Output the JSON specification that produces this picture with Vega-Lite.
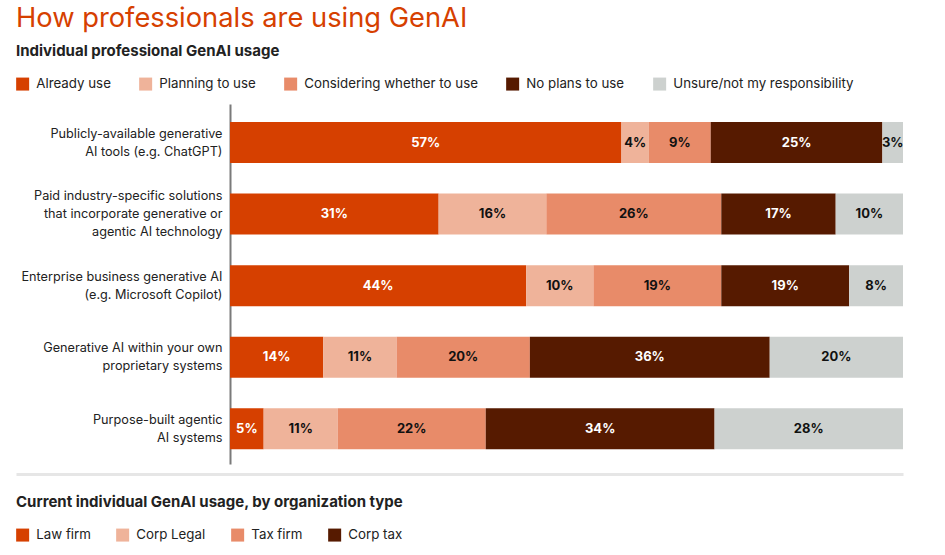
{
  "$schema": "https://vega.github.io/schema/vega-lite/v6.json",
  "autosize": "none",
  "width": 887,
  "height": 360,
  "padding": {"left": 16, "top": 104, "right": 42, "bottom": 91},
  "background": "white",
  "title": {
    "text": "How professionals are using GenAI",
    "anchor": "start",
    "frame": "group",
    "font": "Inter",
    "fontSize": 27.3,
    "fontWeight": 400,
    "color": "#D64000",
    "offset": 12
  },
  "config": {"view": {"stroke": null}, "font": "Inter"},
  "datasets": {
    "usage": [
      {"tool": "Publicly-available generative|AI tools (e.g. ChatGPT)", "response": "Already use", "pct": 57},
      {"tool": "Publicly-available generative|AI tools (e.g. ChatGPT)", "response": "Planning to use", "pct": 4},
      {"tool": "Publicly-available generative|AI tools (e.g. ChatGPT)", "response": "Considering whether to use", "pct": 9},
      {"tool": "Publicly-available generative|AI tools (e.g. ChatGPT)", "response": "No plans to use", "pct": 25},
      {"tool": "Publicly-available generative|AI tools (e.g. ChatGPT)", "response": "Unsure/not my responsibility", "pct": 3},
      {"tool": "Paid industry-specific solutions|that incorporate generative or|agentic AI technology", "response": "Already use", "pct": 31},
      {"tool": "Paid industry-specific solutions|that incorporate generative or|agentic AI technology", "response": "Planning to use", "pct": 16},
      {"tool": "Paid industry-specific solutions|that incorporate generative or|agentic AI technology", "response": "Considering whether to use", "pct": 26},
      {"tool": "Paid industry-specific solutions|that incorporate generative or|agentic AI technology", "response": "No plans to use", "pct": 17},
      {"tool": "Paid industry-specific solutions|that incorporate generative or|agentic AI technology", "response": "Unsure/not my responsibility", "pct": 10},
      {"tool": "Enterprise business generative AI|(e.g. Microsoft Copilot)", "response": "Already use", "pct": 44},
      {"tool": "Enterprise business generative AI|(e.g. Microsoft Copilot)", "response": "Planning to use", "pct": 10},
      {"tool": "Enterprise business generative AI|(e.g. Microsoft Copilot)", "response": "Considering whether to use", "pct": 19},
      {"tool": "Enterprise business generative AI|(e.g. Microsoft Copilot)", "response": "No plans to use", "pct": 19},
      {"tool": "Enterprise business generative AI|(e.g. Microsoft Copilot)", "response": "Unsure/not my responsibility", "pct": 8},
      {"tool": "Generative AI within your own|proprietary systems", "response": "Already use", "pct": 14},
      {"tool": "Generative AI within your own|proprietary systems", "response": "Planning to use", "pct": 11},
      {"tool": "Generative AI within your own|proprietary systems", "response": "Considering whether to use", "pct": 20},
      {"tool": "Generative AI within your own|proprietary systems", "response": "No plans to use", "pct": 36},
      {"tool": "Generative AI within your own|proprietary systems", "response": "Unsure/not my responsibility", "pct": 20},
      {"tool": "Purpose-built agentic|AI systems", "response": "Already use", "pct": 5},
      {"tool": "Purpose-built agentic|AI systems", "response": "Planning to use", "pct": 11},
      {"tool": "Purpose-built agentic|AI systems", "response": "Considering whether to use", "pct": 22},
      {"tool": "Purpose-built agentic|AI systems", "response": "No plans to use", "pct": 34},
      {"tool": "Purpose-built agentic|AI systems", "response": "Unsure/not my responsibility", "pct": 28}
    ],
    "orgs": [
      {"org": "Law firm"},
      {"org": "Corp Legal"},
      {"org": "Tax firm"},
      {"org": "Corp tax"}
    ]
  },
  "layer": [
    {
      "data": {"name": "usage"},
      "transform": [
        {"calculate": "indexof(['Already use','Planning to use','Considering whether to use','No plans to use','Unsure/not my responsibility'], datum.response)", "as": "rk"},
        {"stack": "pct", "groupby": ["tool"], "sort": [{"field": "rk"}], "offset": "normalize", "as": ["x0", "x1"]}
      ],
      "mark": {"type": "bar"},
      "encoding": {
        "y": {
          "field": "tool",
          "type": "nominal",
          "sort": [
            "Publicly-available generative|AI tools (e.g. ChatGPT)",
            "Paid industry-specific solutions|that incorporate generative or|agentic AI technology",
            "Enterprise business generative AI|(e.g. Microsoft Copilot)",
            "Generative AI within your own|proprietary systems",
            "Purpose-built agentic|AI systems"
          ],
          "scale": {"paddingInner": 0.427, "paddingOuter": 0.23, "align": 0.55},
          "axis": {
            "title": null,
            "offset": -214,
            "domainColor": "#7a7a7a",
            "domainWidth": 2,
            "ticks": false,
            "labelFont": "Inter",
            "labelFontSize": 12.7,
            "labelColor": "#222222",
            "labelLineHeight": 18,
            "labelPadding": 8,
            "labelLimit": 400,
            "labelOffset": {"condition": {"test": "indexof(datum.value, 'agentic AI technology') >= 0", "value": -18}, "value": -9},
            "labelExpr": "split(datum.label, '|')"
          }
        },
        "x": {
          "field": "x0",
          "type": "quantitative",
          "scale": {"domain": [-0.318, 1], "nice": false, "zero": false},
          "axis": {
            "title": null,
            "labels": false,
            "ticks": false,
            "grid": false,
            "domainColor": "#E6E6E6",
            "domainWidth": 3,
            "offset": 10
          }
        },
        "x2": {"field": "x1"},
        "color": {
          "field": "response",
          "type": "nominal",
          "scale": {
            "domain": ["Already use", "Planning to use", "Considering whether to use", "No plans to use", "Unsure/not my responsibility"],
            "range": ["#D64000", "#EFB39A", "#E88B69", "#561A00", "#CDD1CF"]
          },
          "legend": {
            "title": "Individual professional GenAI usage",
            "orient": "none",
            "legendX": 0,
            "legendY": -60,
            "direction": "horizontal",
            "titleFont": "Inter",
            "titleFontSize": 15,
            "titleFontWeight": 700,
            "titleColor": "#222222",
            "titlePadding": 18,
            "titleLimit": 0,
            "labelFont": "Inter",
            "labelFontSize": 13.3,
            "labelColor": "#222222",
            "labelLimit": 0,
            "labelOffset": 7,
            "symbolType": "square",
            "symbolSize": 169,
            "symbolStrokeWidth": 0,
            "columnPadding": 28
          }
        }
      }
    },
    {
      "data": {"name": "usage"},
      "transform": [
        {"calculate": "indexof(['Already use','Planning to use','Considering whether to use','No plans to use','Unsure/not my responsibility'], datum.response)", "as": "rk"},
        {"stack": "pct", "groupby": ["tool"], "sort": [{"field": "rk"}], "offset": "normalize", "as": ["x0", "x1"]},
        {"calculate": "(datum.x0 + datum.x1) / 2", "as": "xm"},
        {"calculate": "datum.pct + '%'", "as": "lbl"}
      ],
      "mark": {"type": "text", "font": "Inter", "fontSize": 13, "fontWeight": 700, "align": "center", "baseline": "middle"},
      "encoding": {
        "y": {
          "field": "tool",
          "type": "nominal",
          "sort": [
            "Publicly-available generative|AI tools (e.g. ChatGPT)",
            "Paid industry-specific solutions|that incorporate generative or|agentic AI technology",
            "Enterprise business generative AI|(e.g. Microsoft Copilot)",
            "Generative AI within your own|proprietary systems",
            "Purpose-built agentic|AI systems"
          ]
        },
        "x": {"field": "xm", "type": "quantitative"},
        "text": {"field": "lbl"},
        "color": {
          "condition": {"test": "datum.response === 'Already use' || datum.response === 'No plans to use'", "value": "#ffffff"},
          "value": "#111111"
        }
      }
    },
    {
      "data": {"name": "orgs"},
      "mark": {"type": "square", "opacity": 0, "size": 10},
      "encoding": {
        "color": {
          "field": "org",
          "type": "nominal",
          "scale": {
            "domain": ["Law firm", "Corp Legal", "Tax firm", "Corp tax"],
            "range": ["#D64000", "#EFB39A", "#E88B69", "#561A00"]
          },
          "legend": {
            "title": "Current individual GenAI usage, by organization type",
            "orient": "none",
            "legendX": 0,
            "legendY": 391,
            "direction": "horizontal",
            "titleFont": "Inter",
            "titleFontSize": 15,
            "titleFontWeight": 700,
            "titleColor": "#222222",
            "titlePadding": 18,
            "titleLimit": 0,
            "labelFont": "Inter",
            "labelFontSize": 13.3,
            "labelColor": "#222222",
            "labelLimit": 0,
            "labelOffset": 7,
            "symbolType": "square",
            "symbolSize": 169,
            "symbolStrokeWidth": 0,
            "symbolOpacity": 1,
            "columnPadding": 25
          }
        }
      }
    }
  ],
  "resolve": {"scale": {"color": "independent"}, "legend": {"color": "independent"}}
}
